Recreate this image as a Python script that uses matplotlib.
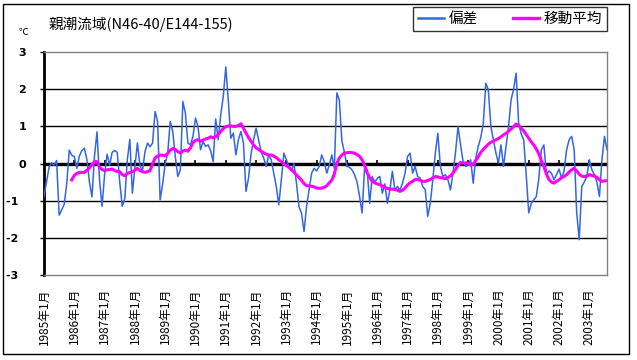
import matplotlib
matplotlib.use("Agg")
import matplotlib.pyplot as plt
from matplotlib.patches import Rectangle
from matplotlib.lines import Line2D

plt.rcParams['font.family'] = ['Noto Sans CJK JP', 'DejaVu Sans']
plt.rcParams['axes.unicode_minus'] = False

title = "親潮流域(N46-40/E144-155)"
unit_label = "℃"
series_names = ["偏差", "移動平均"]

tick_labels = ["1985年1月", "1986年1月", "1987年1月", "1988年1月", "1989年1月",
               "1990年1月", "1991年1月", "1992年1月", "1993年1月", "1994年1月",
               "1995年1月", "1996年1月", "1997年1月", "1998年1月", "1999年1月",
               "2000年1月", "2001年1月", "2002年1月", "2003年1月"]

y_ticks = [-3, -2, -1, 0, 1, 2, 3]

# monthly anomaly, 1985-01 .. 2003-08
anomaly = [
    # 1985
    -0.89, -0.50, -0.10, 0.02, -0.05, 0.08, -1.39, -1.25, -1.10, -0.55, 0.36, 0.22,
    # 1986
    0.19, -0.13, 0.20, 0.35, 0.41, 0.10, -0.50, -0.90, 0.20, 0.85, -0.45, -1.15,
    # 1987
    -0.30, 0.25, -0.05, 0.30, 0.35, 0.30, -0.50, -1.15, -0.95, 0.10, 0.65, -0.80,
    # 1988
    -0.10, 0.55, -0.05, -0.20, 0.32, 0.55, 0.45, 0.55, 1.40, 1.13, -0.98, -0.55,
    # 1989
    0.00, 0.28, 1.13, 0.86, 0.19, -0.35, -0.17, 1.67, 1.35, 0.55, 0.50, 0.73,
    # 1990
    1.22, 1.00, 0.37, 0.59, 0.46, 0.50, 0.35, 0.05, 1.20, 0.64, 1.31, 1.80,
    # 1991
    2.60, 1.70, 0.68, 0.82, 0.23, 0.64, 0.86, 0.55, -0.75, -0.40, 0.25, 0.63,
    # 1992
    0.95, 0.64, 0.32, 0.15, -0.08, 0.23, 0.10, -0.26, -0.62, -1.11, -0.44, 0.28,
    # 1993
    0.10, -0.08, -0.20, 0.00, -0.53, -1.16, -1.34, -1.83, -1.16, -0.70, -0.26, -0.13,
    # 1994
    -0.20, -0.08, 0.23, 0.05, -0.26, -0.04, 0.23, -0.13, 1.90, 1.70, 0.60, 0.30,
    # 1995
    -0.08, -0.10, -0.17, -0.30, -0.50, -0.89, -1.33, -0.08, -0.17, -1.07, -0.35, -0.50,
    # 1996
    -0.40, -0.35, -0.80, -0.55, -1.07, -0.71, -0.21, -0.71, -0.62, -0.71, -0.53, -0.26,
    # 1997
    0.19, 0.28, -0.26, -0.08, -0.35, -0.39, -0.62, -0.70, -1.42, -1.07, -0.44, 0.28,
    # 1998
    0.81, -0.08, -0.35, -0.30, -0.44, -0.71, -0.26, 0.30, 0.99, 0.50, 0.05, -0.08,
    # 1999
    -0.04, 0.10, -0.53, 0.14, 0.46, 0.70, 1.08, 2.16, 1.98, 1.00, 0.64, 0.28,
    # 2000
    0.01, 0.50, -0.08, 0.46, 0.99, 1.71, 2.00, 2.43, 1.08, 0.80, 0.64, -0.30,
    # 2001
    -1.33, -1.07, -0.98, -0.89, -0.40, 0.37, 0.50, -0.30, -0.20, -0.26, -0.44, -0.30,
    # 2002
    -0.15, -0.40, -0.20, 0.37, 0.64, 0.73, 0.37, -1.33, -2.05, -0.62, -0.50, -0.35,
    # 2003
    0.10, -0.17, -0.30, -0.50, -0.89, 0.10, 0.73, 0.37,
]

# moving average, 1985-12 .. 2003-08
moving_avg = [
    -0.44,
    -0.32, -0.27, -0.24, -0.24, -0.24, -0.18, -0.12, -0.03, 0.05, 0.05, -0.10, -0.16,
    -0.19, -0.17, -0.16, -0.15, -0.19, -0.21, -0.22, -0.30, -0.33, -0.27, -0.24, -0.22,
    -0.18, -0.13, -0.19, -0.22, -0.24, -0.22, -0.19, -0.02, 0.15, 0.20, 0.23, 0.22,
    0.21, 0.27, 0.36, 0.40, 0.38, 0.32, 0.28, 0.34, 0.36, 0.33, 0.42, 0.56,
    0.62, 0.64, 0.60, 0.63, 0.66, 0.68, 0.72, 0.69, 0.72, 0.78, 0.86, 0.94,
    0.99, 1.01, 1.01, 1.00, 1.00, 1.02, 1.07, 0.95, 0.82, 0.70, 0.60, 0.50,
    0.42, 0.38, 0.33, 0.29, 0.25, 0.23, 0.23, 0.20, 0.16, 0.10, 0.05, 0.00,
    -0.06, -0.10, -0.16, -0.23, -0.31, -0.38, -0.45, -0.54, -0.60, -0.60, -0.61, -0.63,
    -0.66, -0.67, -0.66, -0.64, -0.60, -0.52, -0.45, -0.28, 0.00, 0.15, 0.23, 0.28,
    0.29, 0.30, 0.29, 0.28, 0.24, 0.19, 0.10, -0.05, -0.25, -0.38, -0.48, -0.52,
    -0.55, -0.57, -0.60, -0.64, -0.67, -0.69, -0.69, -0.70, -0.72, -0.75, -0.72, -0.66,
    -0.58, -0.52, -0.48, -0.43, -0.43, -0.45, -0.48, -0.48, -0.46, -0.43, -0.39, -0.35,
    -0.36, -0.38, -0.39, -0.41, -0.38, -0.33, -0.26, -0.16, -0.05, 0.03, 0.01, 0.02,
    0.00, -0.04, -0.02, 0.08, 0.18, 0.30, 0.38, 0.45, 0.52, 0.57, 0.60, 0.64,
    0.67, 0.72, 0.77, 0.81, 0.87, 0.93, 0.99, 1.06, 1.03, 0.95, 0.88, 0.78,
    0.68, 0.58, 0.50, 0.39, 0.26, 0.08, -0.08, -0.28, -0.43, -0.50, -0.53, -0.48,
    -0.44, -0.38, -0.35, -0.30, -0.23, -0.17, -0.13, -0.20, -0.29, -0.34, -0.35, -0.34,
    -0.30, -0.32, -0.34, -0.37, -0.44, -0.48, -0.47, -0.46,
]

W, H = 637, 360
fig = plt.figure(figsize=(W / 100, H / 100), dpi=100)
fig.patch.set_facecolor("white")

L, R, T, B = 44, 607, 52, 275
ax = fig.add_axes([L / W, 1 - B / H, (R - L) / W, (B - T) / H])

n = len(anomaly)
x_all = list(range(n))
x_ma = list(range(n - len(moving_avg), n))

blue = "#3366E6"
magenta = "#FF00FF"

ax.plot(x_all, anomaly, color=blue, lw=1.1, zorder=3)
ax.plot(x_ma, moving_avg, color=magenta, lw=2.2, zorder=4, solid_joinstyle="round")

ax.set_xlim(0, n - 1)
ax.set_ylim(-3, 3)

ax.set_yticks(y_ticks)
# negative labels carry a trailing figure space (Excel-style number format)
ax.set_yticklabels([(str(v) + "\u2007") if v < 0 else str(v) for v in y_ticks],
                   fontweight="bold", fontsize=8, family=["DejaVu Sans"])
for v in y_ticks[1:-1]:
    if v != 0:
        ax.axhline(v, color="black", lw=1.0, zorder=1)
ax.axhline(0, color="black", lw=2.4, zorder=2)

ax.tick_params(axis="y", direction="out", length=3, width=1, pad=10)

xticks = [12 * i for i in range(len(tick_labels))]
ax.set_xticks(xticks)
ax.set_xticklabels(tick_labels, rotation=90, fontsize=8.5, va="top", ha="center")
ax.tick_params(axis="x", length=0, pad=9.5)

sec = ax.secondary_xaxis(0.5)
sec.set_xticks(xticks)
sec.set_xticklabels([])
sec.tick_params(axis="x", direction="inout", length=5, width=1.2, color="black")
sec.spines["bottom"].set_visible(False)

for s in ["top", "right", "bottom"]:
    ax.spines[s].set_color("#808080")
    ax.spines[s].set_linewidth(1.0)
ax.spines["left"].set_color("black")
ax.spines["left"].set_linewidth(2.0)

fig.text(49 / W, 1 - 24 / H, title, fontsize=10.5, va="center", ha="left")
fig.text(23 / W, 1 - 32 / H, unit_label, fontsize=7, va="center", ha="center")

handles = [Line2D([], [], color=blue, lw=1.8), Line2D([], [], color=magenta, lw=2.4)]
leg = fig.legend(handles, series_names, loc="upper right",
                 bbox_to_anchor=(607 / W, 1 - 7 / H), ncol=2, frameon=True,
                 fancybox=False, edgecolor="black", fontsize=10.5,
                 handlelength=1.8, columnspacing=2.4, borderpad=0.35,
                 handletextpad=0.3, borderaxespad=0)
leg.get_frame().set_linewidth(1.0)

fig.add_artist(Rectangle((3 / W, 1 - 354 / H), 626 / W, 350 / H,
                         transform=fig.transFigure, fill=False,
                         edgecolor="black", lw=1.0))

fig.savefig("out.png", dpi=100, facecolor="white")
